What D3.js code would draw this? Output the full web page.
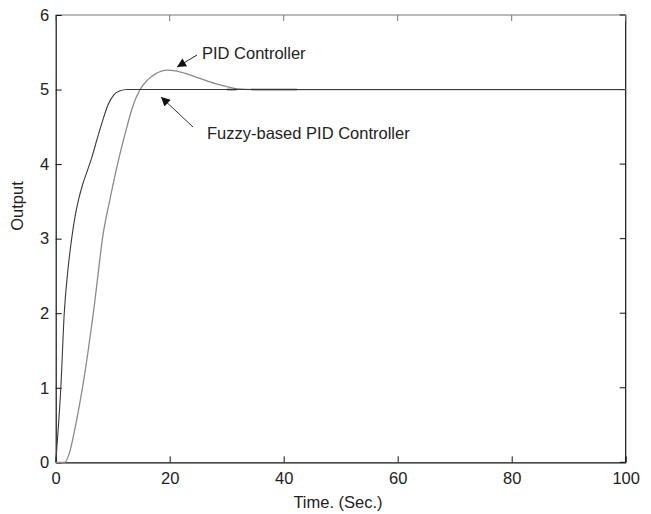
<!DOCTYPE html>
<html><head><meta charset="utf-8">
<script src="https://cdn.jsdelivr.net/npm/d3@7"></script>
<style>body{margin:0;background:#fff}text{font-family:"Liberation Sans",Arial,sans-serif}</style>
</head><body><svg id="c" width="651" height="514"></svg>
<script>
const xTicks = [0, 20, 40, 60, 80, 100];
const yTicks = [0, 1, 2, 3, 4, 5, 6];
const fuzzyT = [0, 0.3, 0.9, 1.5, 2.1, 2.8, 3.4, 4.0, 4.7, 5.5, 6.3, 7.2, 8.1, 9.2, 10.2, 11.2, 12.5, 100];
const fuzzyY = [0, 0.3, 1.0, 2.0, 2.55, 3.0, 3.3, 3.52, 3.72, 3.9, 4.08, 4.32, 4.55, 4.8, 4.93, 4.98, 5.0, 5.0];
const pidT = [0, 1.6, 2.5, 3.5, 4.7, 5.7, 6.6, 7.4, 8.2, 9.5, 11, 12.5, 13.5, 14.8, 16, 17.5, 19.5, 21, 23, 25.3, 28, 30, 32, 35, 100];
const pidY = [0, 0, 0.15, 0.5, 1.0, 1.5, 2.0, 2.5, 3.0, 3.52, 4.05, 4.5, 4.77, 5.0, 5.12, 5.21, 5.26, 5.25, 5.21, 5.15, 5.08, 5.04, 5.01, 5.0, 5.0];
const darkSegT = [[30, 31.7], [34.3, 42.3]];
const darkSegY = 5;
const labels = ["PID Controller", "Fuzzy-based PID Controller"];
const xLabel = "Time. (Sec.)", yLabel = "Output";

const svg = d3.select("#c");
const L = 55.7, R = 625.7, T = 15, B = 462.3;
const x = d3.scaleLinear().domain([0, 100]).range([L, R]);
const y = d3.scaleLinear().domain([0, 6]).range([B, T]);

svg.append("line").attr("x1", L).attr("x2", R).attr("y1", T).attr("y2", T).attr("stroke", "#777").attr("stroke-width", 1.2);
svg.append("line").attr("x1", R).attr("x2", R).attr("y1", T).attr("y2", B).attr("stroke", "#111").attr("stroke-width", 1.2);

const fs = "16.5px";
const xAxis = svg.append("g").attr("transform", `translate(0,${B})`)
  .call(d3.axisBottom(x).tickValues(xTicks).tickFormat(d3.format("d")).tickSizeInner(-6).tickSizeOuter(0).tickPadding(10));
const yAxis = svg.append("g").attr("transform", `translate(${L},0)`)
  .call(d3.axisLeft(y).tickValues(yTicks).tickFormat(d3.format("d")).tickSizeInner(-6).tickSizeOuter(0).tickPadding(6.5));
[xAxis, yAxis].forEach(a => {
  a.selectAll("path").attr("stroke", "#111").attr("stroke-width", 1.2);
  a.selectAll("line").attr("stroke", "#111");
  a.selectAll("text").attr("font-size", fs).attr("fill", "#222").attr("font-family", "Liberation Sans, Arial, sans-serif");
});
svg.append("g").selectAll("line").data(yTicks).join("line")
  .attr("x1", R).attr("x2", R - 6).attr("y1", d => y(d)).attr("y2", d => y(d)).attr("stroke", "#111");
svg.append("g").selectAll("line").data(xTicks).join("line")
  .attr("x1", d => x(d)).attr("x2", d => x(d)).attr("y1", T).attr("y2", T + 6).attr("stroke", "#777");

const line = d3.line().x(d => x(d[0])).y(d => y(d[1])).curve(d3.curveMonotoneX);
svg.append("path").datum(pidT.map((t, i) => [t, pidY[i]])).attr("d", line)
  .attr("fill", "none").attr("stroke", "#8a8a8a").attr("stroke-width", 1.3);
svg.append("path").datum(fuzzyT.map((t, i) => [t, fuzzyY[i]])).attr("d", line)
  .attr("fill", "none").attr("stroke", "#3a3a3a").attr("stroke-width", 1.1);
svg.append("g").selectAll("line").data(darkSegT).join("line")
  .attr("x1", d => x(d[0])).attr("x2", d => x(d[1])).attr("y1", y(darkSegY)).attr("y2", y(darkSegY))
  .attr("stroke", "#333").attr("stroke-width", 1.6);

const defs = svg.append("defs");
defs.append("marker").attr("id", "ah").attr("viewBox", "0 0 10 10").attr("refX", 10).attr("refY", 5)
  .attr("markerWidth", 12).attr("markerHeight", 9).attr("markerUnits", "userSpaceOnUse").attr("orient", "auto")
  .append("path").attr("d", "M0,0L10,5L0,10Z").attr("fill", "#111");
svg.append("line").attr("x1", 197).attr("y1", 55).attr("x2", 177).attr("y2", 67)
  .attr("stroke", "#222").attr("stroke-width", 1).attr("marker-end", "url(#ah)");
svg.append("line").attr("x1", 193).attr("y1", 127).attr("x2", 161).attr("y2", 97)
  .attr("stroke", "#333").attr("stroke-width", 1).attr("marker-end", "url(#ah)");

svg.append("text").attr("x", 202).attr("y", 59).attr("font-size", fs).attr("fill", "#222").text(labels[0]);
svg.append("text").attr("x", 207).attr("y", 139).attr("font-size", fs).attr("fill", "#222").text(labels[1]);

svg.append("text").attr("x", 338).attr("y", 508).attr("text-anchor", "middle").attr("font-size", fs).attr("fill", "#222").text(xLabel);
svg.append("text").attr("transform", "translate(23,206) rotate(-90)").attr("text-anchor", "middle").attr("font-size", fs).attr("fill", "#222").text(yLabel);
</script></body></html>
